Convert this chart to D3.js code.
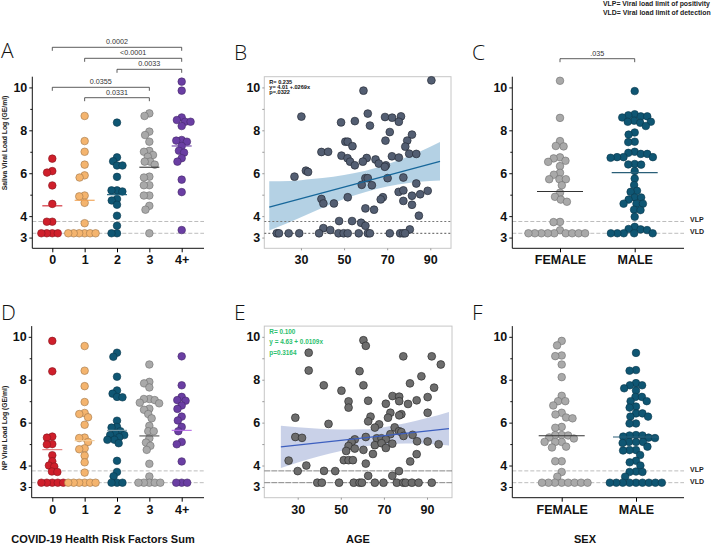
<!DOCTYPE html>
<html><head><meta charset="utf-8">
<script src="https://cdn.jsdelivr.net/npm/d3@7/dist/d3.min.js"></script>
<style>
html,body{margin:0;padding:0;background:#fff;}
svg text{font-family:"Liberation Sans",Arial,sans-serif;}
</style></head>
<body><svg id="c" width="720" height="545"></svg>
<script>
// ---------- DATA ----------
const riskCats = ["0","1","2","3","4+"];
const sexCats = ["FEMALE","MALE"];
const yTicks = [3,4,6,8,10];
const yMinor = [5,7,9];
const ageTicks = [30,50,70,90];
const VLP = 3.75, VLD = 3.2;

const salivaRisk = [
  [6.68,6.1,6.03,5.43,4.57,3.74,3.74,3.2,3.2,3.2,3.2],
  [8.67,7.5,7.0,6.4,5.9,5.8,4.96,4.92,4.62,3.67,3.2,3.2,3.2,3.2,3.2,3.2],
  [8.36,6.74,6.56,6.36,6.36,5.83,5.2,5.2,5.15,4.8,4.73,4.53,4.02,3.55,3.2,3.2],
  [8.79,8.67,7.94,7.78,7.47,7.04,7.0,6.85,6.77,6.54,6.54,6.4,5.84,5.8,5.44,5.44,4.96,4.96,4.48,4.3,3.2],
  [10.27,9.85,8.6,8.48,8.4,8.4,8.2,7.55,7.52,7.47,7.27,7.05,6.96,6.7,6.54,5.7,5.12,3.35]
];
const salivaRiskMedian = [4.48,4.74,5.0,6.28,7.27];

const npRisk = [
  [9.81,8.39,5.35,5.3,5.0,4.98,4.48,4.2,4.0,3.95,3.72,3.7,3.2,3.2,3.2,3.2,3.2],
  [9.57,8.42,7.7,6.96,6.45,6.4,6.25,5.9,5.3,5.28,5.1,4.8,4.76,4.46,4.15,3.67,3.2,3.2,3.2,3.2,3.2,3.2],
  [9.26,9.07,8.14,7.5,7.35,7.2,7.18,6.09,5.8,5.77,5.6,5.5,5.42,5.42,5.32,5.2,5.2,5.04,4.22,3.7,3.5,3.2,3.2,3.2],
  [8.71,7.9,7.83,7.64,7.1,7.1,7.05,6.93,6.9,6.65,6.6,6.4,6.2,5.85,5.6,5.6,5.27,5.07,4.92,4.73,4.08,3.49,3.2,3.2,3.2,3.2,3.2],
  [9.09,7.74,7.2,7.05,7.02,6.8,6.64,6.28,6.1,5.8,5.6,5.1,4.99,4.19,3.2,3.2,3.2]
];
const npRiskMedian = [4.74,5.16,5.64,5.38,5.64];

const salivaSex = [
  [10.31,8.58,7.5,7.27,7.25,6.74,6.69,6.58,6.53,6.33,6.02,5.93,5.72,5.72,5.72,5.44,5.09,4.9,4.77,4.67,3.73,3.72,3.34,3.2,3.2,3.2,3.2,3.2,3.2,3.2,3.2,3.2],
  [9.83,8.75,8.7,8.65,8.65,8.6,8.45,8.4,8.4,8.35,8.2,7.9,7.8,7.47,7.45,7.0,6.95,6.9,6.9,6.75,6.75,6.75,6.72,6.43,6.41,6.4,6.1,5.75,5.45,5.18,5.13,4.87,4.87,4.77,4.58,4.58,4.58,4.3,4.28,3.97,3.5,3.4,3.38,3.35,3.2,3.2,3.2,3.2,3.2]
];
const salivaSexMedian = [5.15,6.03];

const npSex = [
  [9.81,9.6,9.13,9.1,8.71,8.12,7.25,7.0,7.0,6.8,6.46,6.38,6.24,6.2,5.8,5.76,5.42,5.42,5.4,5.31,5.26,5.1,5.1,5.1,4.88,4.84,4.2,4.2,3.7,3.48,3.2,3.2,3.2,3.2,3.2,3.2,3.2,3.2],
  [9.25,8.45,8.42,7.84,7.74,7.74,7.6,7.5,7.2,7.2,7.0,7.0,6.75,6.7,6.43,6.43,6.28,6.28,5.96,5.96,5.42,5.4,5.4,5.35,5.3,5.28,5.1,5.1,5.05,5.1,4.88,4.72,4.72,4.7,4.49,4.22,4.15,4.0,3.72,3.7,3.7,3.48,3.2,3.2,3.2,3.2,3.2,3.2,3.2,3.2,3.2]
];
const npSexMedian = [5.39,5.33];

const salivaAge = [90.5,59,30.2,61,69,72.3,76.4,75.4,48.6,55,62,71.2,81.5,79.3,69.2,50.6,51.7,53.9,78.4,39.5,42.6,48.8,51.6,60.5,72.2,75.4,80.2,83.5,52.8,58.7,55,64.6,66.1,69.4,68.9,27,32.3,33.3,59.9,61,70.2,77.5,58.2,62.9,83.5,75.3,77.5,88.8,85.3,81.5,51.7,68,67,39.5,40.4,45.3,77.5,81.5,59.9,63.9,84.7,47.7,53.7,57.9,59.9,40.4,43.6,80.5,18.8,19.8,24.3,29.2,38.4,47.4,49.8,51.7,56.8,61,62,71.2,76,77.4,78.3];
const salivaAgeVal = [10.33,9.85,8.64,8.78,8.62,8.59,8.65,8.4,8.37,8.43,8.22,7.92,7.8,7.52,7.52,7.47,7.47,7.26,7.24,6.99,7.0,6.82,6.7,6.71,6.79,6.73,6.91,6.9,6.54,6.54,6.37,6.64,6.45,6.37,6.3,5.84,6.12,6.06,5.77,5.77,5.77,5.8,5.46,5.44,5.52,5.13,5.2,5.18,5.02,4.95,4.88,4.88,4.78,4.8,4.59,4.59,4.71,4.53,4.36,4.3,4.02,3.77,3.77,3.69,3.55,3.44,3.35,3.38,3.2,3.2,3.2,3.2,3.2,3.2,3.2,3.2,3.2,3.2,3.2,3.2,3.2,3.2,3.2];
const salivaFit = [4.01, 0.0269];          // intercept, slope
const salivaFitRange = [15.3, 94.5];
const salivaBandAge = [15.3,25,35,45,55,65,75,85,94.5];
const salivaBandUp  = [5.63,5.64,5.73,5.84,6.01,6.26,6.59,7.0,7.45];
const salivaBandLo  = [3.33,3.73,4.17,4.6,4.97,5.26,5.47,5.6,5.66];
const salivaStats = ["R= 0.235","y= 4.01 +.0269x","p=.0322"];

const npAge = [60.5,61.6,35.1,79,92.2,96.4,35.1,58.7,87.4,42.1,60.5,82.1,93.3,50.3,74,77.1,90.3,53.6,62.7,77.1,85.2,81.2,70.9,53.6,73,78.1,90.3,77.1,63.8,28.9,71.9,62.7,67.8,44.3,65.8,75,77,78.1,28.9,32,61.6,66.7,68.9,73,79.1,83.3,70.9,56.5,55,53.6,65.8,68.9,73.9,85.4,90.3,95.4,52.5,56.5,70.9,60.5,64.9,85.2,51.4,53.6,55.6,61.6,82.2,25.8,34,30,42.2,47.4,77,62.7,73.9,39.1,41.2,49.2,56,58.7,59.8,65.8,69.8,76,79,80.1,83,86.1,92.2];
const npAgeVal = [9.84,9.58,9.26,9.09,9.09,8.71,8.43,8.4,8.16,7.74,7.74,7.83,7.63,7.49,7.24,7.21,7.19,6.99,7.02,7.0,7.04,6.87,6.88,6.7,6.46,6.39,6.46,6.34,6.28,6.23,6.23,6.06,5.92,5.94,5.77,5.78,5.6,5.56,5.33,5.29,5.33,5.27,5.27,5.46,5.38,5.43,5.22,5.22,5.1,4.91,4.95,5.04,5.02,5.13,5.12,4.99,4.68,4.79,4.82,4.73,4.54,4.53,4.25,4.25,4.25,4.09,4.19,4.23,4.0,3.74,3.75,3.74,3.74,3.52,3.52,3.2,3.2,3.2,3.2,3.2,3.2,3.2,3.2,3.2,3.2,3.2,3.2,3.2,3.2];
const npFit = [4.63, 0.0109];
const npFitRange = [22.2, 100.2];
const npBandAge = [22.2,30,40,50,60,70,80,90,100.2];
const npBandUp  = [5.85,5.78,5.71,5.68,5.69,5.79,5.97,6.21,6.5];
const npBandLo  = [3.89,4.14,4.43,4.68,4.87,4.99,5.03,5.01,4.93];
const npStats = ["R= 0.100","y = 4.63 + 0.0109x","p=0.3164"];

const salivaBrackets = [["0","4+","0.0002"],["1","4+","<0.0001"],["2","4+","0.0033"],["0","3","0.0355"],["1","3","0.0331"]];
const sexBracket = [["FEMALE","MALE",".035"]];

const riskColors = ["#cf1f2b","#f4b46e","#0f5673","#a9a9a9","#6a3ea3"];
const riskMedA = ["#d0202c","#f0a050","#0f5673","#333333","#6a3ea3"];
const riskMedD = ["#e07a7a","#f6cf9c","#7d9eab","#555555","#b46ae6"];
const sexColors = ["#a9a9a9","#0f5673"];
const sexMed = ["#333333","#2a5f78"];

// ---------- DRAW ----------
const svg = d3.select("#c");
const TOP = {y0:248.3, y1:76.7}, BOT = {y0:497.7, y1:326.1};

function yScale(row){ return d3.scaleLinear().domain([2.5,10.5]).range([row.y0,row.y1]); }

function swarm(vals, cx, y, r, f){
  const pts = vals.map(v=>({v, y:y(v)})).sort((a,b)=>a.y-b.y);
  const d = r*2*f, placed=[];
  for(const p of pts){
    const ints=[];
    for(const q of placed){ const dy=p.y-q.y; if(Math.abs(dy)<d){ const dx=Math.sqrt(d*d-dy*dy); ints.push([q.x-dx,q.x+dx]); } }
    const cands=[cx]; ints.forEach(i=>cands.push(i[0],i[1]));
    cands.sort((a,b)=>Math.abs(a-cx)-Math.abs(b-cx));
    let x=cx;
    for(const c of cands){ if(ints.every(i=>c<=i[0]+1e-6||c>=i[1]-1e-6)){x=c;break;} }
    p.x=x; placed.push(p);
  }
  return pts;
}

function yAxes(g, y, x0, color, size){
  const ax = g.append("g").attr("transform",`translate(${x0},0)`)
    .call(d3.axisLeft(y).tickValues(yTicks).tickSize(size).tickPadding(2).tickFormat(d3.format("d")));
  ax.select(".domain").attr("stroke",color);
  ax.selectAll(".tick line").attr("stroke",color);
  ax.selectAll("text").attr("font-size",12.5).attr("font-weight","bold").attr("fill","#111");
  const mn = g.append("g").attr("transform",`translate(${x0},0)`)
    .call(d3.axisLeft(y).tickValues(yMinor).tickSize(2).tickFormat(""));
  mn.select(".domain").remove();
  mn.selectAll(".tick line").attr("stroke",color);
  return ax;
}

function catPanel(o){
  const g = svg.append("g");
  const y = yScale(o.row);
  const x = d3.scalePoint().domain(o.cats).range(o.catRange);
  [VLP,VLD].forEach(v=>{
    g.append("line").attr("x1",o.x0).attr("x2",o.x1).attr("y1",y(v)).attr("y2",y(v))
      .attr("stroke","#bdbdbd").attr("stroke-width",1).attr("stroke-dasharray","4,2");
  });
  const ax = yAxes(g, y, o.x0, "#111", 3);
  ax.select(".domain").attr("d",`M0,${o.row.y1}V${o.row.y0}`);
  const bx = g.append("g").attr("transform",`translate(0,${o.row.y0})`)
    .call(d3.axisBottom(x).tickSize(4).tickPadding(3));
  bx.select(".domain").attr("d",`M${o.x0},0H${o.x1}`).attr("stroke","#111");
  bx.selectAll("text").attr("font-size",12.5).attr("font-weight","bold").attr("fill","#111");
  o.data.forEach((vals,i)=>{
    const pts = swarm(vals, x(o.cats[i]), y, 3.8, o.pack);
    g.selectAll(null).data(pts).enter().append("circle")
      .attr("cx",d=>d.x).attr("cy",d=>d.y).attr("r",3.8)
      .attr("fill",o.colors[i]).attr("stroke",d3.color(o.colors[i]).darker(1.2)).attr("stroke-width",0.6);
  });
  o.medians.forEach((m,i)=>{
    g.append("line").attr("x1",x(o.cats[i])-o.mw).attr("x2",x(o.cats[i])+o.mw)
      .attr("y1",y(m)).attr("y2",y(m)).attr("stroke",o.medColors[i]).attr("stroke-width",1.1);
  });
  if(o.ytitle){
    g.append("text").attr("transform",`translate(${o.ytx},${o.yty}) rotate(-90)`)
      .attr("text-anchor","middle").attr("font-size",6.8).attr("font-weight","bold").attr("fill","#222").text(o.ytitle);
  }
  if(o.limitLabels){
    g.append("text").attr("x",o.x1+6).attr("y",y(VLP)-1).attr("dominant-baseline","middle")
      .attr("font-size",7).attr("font-weight","bold").attr("fill","#222").text("VLP");
    g.append("text").attr("x",o.x1+6).attr("y",y(VLD)-1).attr("dominant-baseline","middle")
      .attr("font-size",7).attr("font-weight","bold").attr("fill","#222").text("VLD");
  }
  if(o.brackets){
    o.brackets.forEach((b,i)=>{
      const by=o.bracketY[i], xa=x(b[0]), xb=x(b[1]);
      g.append("path").attr("d",`M${xa},${by+3.5}V${by}H${xb}V${by+3.5}`).attr("fill","none").attr("stroke","#333").attr("stroke-width",0.8);
      g.append("text").attr("x",(xa+xb)/2).attr("y",by-3).attr("text-anchor","middle").attr("font-size",7.2).attr("fill","#333").text(b[2]);
    });
  }
}

function scatterPanel(o){
  const g = svg.append("g");
  const y = yScale(o.row);
  const x = d3.scaleLinear().domain(o.ageDom).range([o.x0,o.x1]);
  g.append("rect").attr("x",o.x0).attr("y",o.row.y1).attr("width",o.x1-o.x0).attr("height",o.row.y0-o.row.y1)
    .attr("fill","none").attr("stroke","#c6c6c6").attr("stroke-width",1);
  const band = o.bandAge.map((a,i)=>({a, lo:o.bandLo[i], up:o.bandUp[i]}));
  g.append("path").datum(band).attr("fill",o.bandColor).attr("opacity",o.bandOpacity)
    .attr("d",d3.area().curve(d3.curveMonotoneX).x(d=>x(d.a)).y0(d=>y(d.lo)).y1(d=>y(d.up)));
  [VLP,VLD].forEach(v=>{
    g.append("line").attr("x1",o.x0).attr("x2",o.x1).attr("y1",y(v)).attr("y2",y(v))
      .attr("stroke",o.limColor).attr("stroke-width",o.limWidth).attr("stroke-dasharray",o.limDash);
  });
  const pts = o.ages.map((a,i)=>({a, v:o.vals[i]}));
  g.selectAll(null).data(pts).enter().append("circle")
    .attr("cx",d=>x(d.a)).attr("cy",d=>y(d.v)).attr("r",3.9)
    .attr("fill",o.dotColor).attr("stroke",o.dotStroke).attr("stroke-width",0.7);
  const fl = o.fitRange.map(a=>({a, v:o.fit[0]+o.fit[1]*a}));
  g.append("path").datum(fl).attr("fill","none").attr("stroke",o.lineColor).attr("stroke-width",1.3)
    .attr("d",d3.line().x(d=>x(d.a)).y(d=>y(d.v)));
  const ax = yAxes(g, y, o.x0, "#999", 2);
  ax.select(".domain").remove();
  const bx = g.append("g").attr("transform",`translate(0,${o.row.y0})`)
    .call(d3.axisBottom(x).tickValues(ageTicks).tickSize(2).tickPadding(5));
  bx.select(".domain").remove();
  bx.selectAll(".tick line").attr("stroke","#999");
  bx.selectAll("text").attr("font-size",12.5).attr("font-weight","bold").attr("fill","#111");
  o.stats.forEach((s,i)=>{
    g.append("text").attr("x",o.x0+5).attr("y",o.row.y1+o.statY0+i*o.statDy)
      .attr("font-size",o.statSize).attr("font-weight","bold").attr("fill",o.statColor).text(s);
  });
}

catPanel({row:TOP, cats:riskCats, catRange:[52.3,181.7], x0:32.3, x1:204, data:salivaRisk, colors:riskColors, pack:0.72,
  medians:salivaRiskMedian, medColors:riskMedA, mw:10, ytitle:"Saliva Viral Load Log (GE/ml)", ytx:6.5, yty:143,
  brackets:salivaBrackets, bracketY:[47.3,58.3,69.3,87.3,97.7]});
catPanel({row:BOT, cats:riskCats, catRange:[52.3,181.7], x0:31.7, x1:204, data:npRisk, colors:riskColors, pack:0.72,
  medians:npRiskMedian, medColors:riskMedD, mw:10, ytitle:"NP Viral Load Log (GE/ml)", ytx:6.5, yty:428});
catPanel({row:TOP, cats:sexCats, catRange:[560,634.7], x0:512.3, x1:684, data:salivaSex, colors:sexColors, pack:0.85,
  medians:salivaSexMedian, medColors:sexMed, mw:23, limitLabels:true, brackets:sexBracket, bracketY:[58.7]});
catPanel({row:BOT, cats:sexCats, catRange:[561.7,636], x0:512.3, x1:684, data:npSex, colors:sexColors, pack:0.85,
  medians:npSexMedian, medColors:sexMed, mw:23, limitLabels:true});

scatterPanel({row:TOP, x0:264.3, x1:451, ageDom:[13,99.6], ages:salivaAge, vals:salivaAgeVal,
  bandAge:salivaBandAge, bandUp:salivaBandUp, bandLo:salivaBandLo, bandColor:"#a7c9df", bandOpacity:0.85,
  limColor:"#777", limWidth:1.2, limDash:"2,2", dotColor:"#535e72", dotStroke:"#262d38",
  fit:salivaFit, fitRange:salivaFitRange, lineColor:"#17679a", stats:salivaStats, statColor:"#111", statSize:5.6, statY0:6.8, statDy:5.4});
scatterPanel({row:BOT, x0:264.3, x1:452, ageDom:[14.5,101.6], ages:npAge, vals:npAgeVal,
  bandAge:npBandAge, bandUp:npBandUp, bandLo:npBandLo, bandColor:"#c3cce6", bandOpacity:0.9,
  limColor:"#666", limWidth:0.8, limDash:"6,1", dotColor:"#6d6d6d", dotStroke:"#2e2e2e",
  fit:npFit, fitRange:npFitRange, lineColor:"#3d5fbf", stats:npStats, statColor:"#2bbf6e", statSize:6.4, statY0:8, statDy:10.3});

[["A",1,58],["B",234,60],["C",472,60],["D",1,320],["E",234,320],["F",472,320]].forEach(l=>{
  svg.append("text").attr("x",l[1]).attr("y",l[2]).attr("font-size",21).attr("font-weight",300)
    .style("font-family","'Open Sans','Liberation Sans',sans-serif").attr("fill","#111").text(l[0]);
});
[["COVID-19 Health Risk Factors Sum",103,543],["AGE",358,543],["SEX",585,543]].forEach(t=>{
  svg.append("text").attr("x",t[1]).attr("y",t[2]).attr("text-anchor","middle").attr("font-size",11)
    .attr("font-weight","bold").attr("fill","#111").text(t[0]);
});
svg.append("text").attr("x",603).attr("y",6).attr("font-size",6.9).attr("font-weight","bold").attr("fill","#222").text("VLP= Viral load limit of positivity");
svg.append("text").attr("x",603).attr("y",15).attr("font-size",6.9).attr("font-weight","bold").attr("fill","#222").text("VLD= Viral load limit of detection");
</script></body></html>
